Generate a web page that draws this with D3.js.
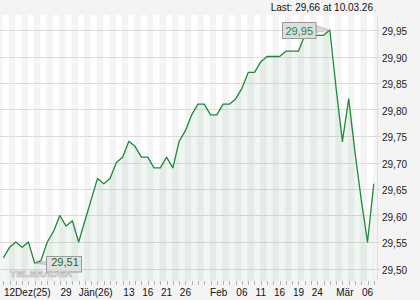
<!DOCTYPE html>
<html>
<head>
<meta charset="utf-8">
<script src="https://cdn.jsdelivr.net/npm/d3@7"></script>
<style>
  html, body { margin: 0; padding: 0; background: #f4f4f4; }
  svg { display: block; font-family: "Liberation Sans", Arial, sans-serif; }
</style>
</head>
<body>
<div id="chart"></div>
<script>
// daily closes, 12.12.25 - 10.03.26
const values = [
    29.52, 29.54, 29.55, 29.54, 29.55, 29.51, 29.515, 29.55, 29.57, 29.60,
    29.58, 29.59, 29.55, 29.59, 29.63, 29.67, 29.66, 29.67, 29.70, 29.71,
    29.74, 29.73, 29.71, 29.71, 29.69, 29.69, 29.71, 29.69, 29.74, 29.76,
    29.79, 29.81, 29.81, 29.79, 29.79, 29.81, 29.81, 29.82, 29.84, 29.87,
    29.87, 29.89, 29.90, 29.90, 29.90, 29.91, 29.91, 29.91, 29.94, 29.94,
    29.94, 29.94, 29.95, 29.84, 29.74, 29.82, 29.72, 29.63, 29.55, 29.66
];
const tickPos = [0, 10, 14.7, 20, 23, 26, 29, 34.3, 38, 41, 44, 47, 50, 54.4, 58];
const tickText = ["12Dez(25)", "29", "Jän(26)", "13", "16", "21", "26", "Feb", "06", "11", "16", "19", "24", "Mär", "06"];
const yTicks = [29.50, 29.55, 29.60, 29.65, 29.70, 29.75, 29.80, 29.85, 29.90, 29.95];
const lastText = "Last: 29,66 at 10.03.26";

const width = 420, height = 300;
const plot = { left: 0, right: 377, top: 15, bottom: 281 };
const fmt = v => v.toFixed(2).replace(".", ",");

const svg = d3.select("#chart").append("svg")
    .attr("width", width)
    .attr("height", height);

svg.append("rect").attr("width", width).attr("height", height).attr("fill", "#f4f4f4");

const x = d3.scaleLinear().domain([0, values.length - 1]).range([3.3, 373.8]);
const y = d3.scaleLinear().domain([29.50, 29.95]).range([268.5, 30]);
const step = x(1) - x(0);

// alternating day columns
svg.append("g").selectAll("rect")
    .data(values.map((v, i) => i))
    .enter().append("rect")
    .attr("x", i => Math.max(plot.left, x(i) - 0.6))
    .attr("y", plot.top)
    .attr("width", i => Math.min(plot.right, x(i) - 0.6 + step) - Math.max(plot.left, x(i) - 0.6))
    .attr("height", plot.bottom - plot.top)
    .attr("fill", i => i % 2 === 0 ? "#ffffff" : "#f4f4f4");

// horizontal grid
svg.append("g").selectAll("line")
    .data(yTicks)
    .enter().append("line")
    .attr("x1", plot.left).attr("x2", plot.right + 4)
    .attr("y1", d => Math.round(y(d)) + 0.5).attr("y2", d => Math.round(y(d)) + 0.5)
    .attr("stroke", "#dcdcdc");

svg.append("line")
    .attr("x1", plot.right + 0.5).attr("x2", plot.right + 0.5)
    .attr("y1", plot.top).attr("y2", plot.bottom)
    .attr("stroke", "#dddddd");

// area + line
const area = d3.area()
    .x((d, i) => x(i))
    .y0(plot.bottom)
    .y1(d => y(d));

svg.append("path")
    .datum(values)
    .attr("d", area)
    .attr("fill", "#2e7d3a")
    .attr("fill-opacity", 0.07);

const line = d3.line()
    .x((d, i) => x(i))
    .y(d => y(d));

svg.append("path")
    .datum(values)
    .attr("d", line)
    .attr("fill", "none")
    .attr("stroke", "#1d8a3b")
    .attr("stroke-width", 1.3)
    .attr("stroke-linejoin", "round");

// max / min markers
const maxI = d3.maxIndex(values), minI = d3.minIndex(values);

const maxBox = { x: 282.5, y: 22.5, w: 33.5, h: 16 };
svg.append("path")
    .attr("d", `M${maxBox.x + maxBox.w},${maxBox.y + 3}L${x(maxI)},${y(values[maxI])}L${maxBox.x + maxBox.w},${maxBox.y + 10}Z`)
    .attr("fill", "#d9d9d9").attr("stroke", "#b0b0b0").attr("stroke-width", 0.6);
svg.append("rect")
    .attr("x", maxBox.x).attr("y", maxBox.y).attr("width", maxBox.w).attr("height", maxBox.h)
    .attr("fill", "#dedede").attr("stroke", "#9a9a9a");
svg.append("text")
    .attr("x", maxBox.x + maxBox.w / 2).attr("y", maxBox.y + 12)
    .attr("text-anchor", "middle")
    .style("font-size", "11px")
    .attr("fill", "#1d8a3b")
    .text(fmt(values[maxI]));

const minBox = { x: 46.5, y: 256.5, w: 35, h: 15.5 };
svg.append("path")
    .attr("d", `M${minBox.x},${minBox.y + 5}L${x(minI)},${y(values[minI])}L${minBox.x},${minBox.y + 8}Z`)
    .attr("fill", "#d9d9d9").attr("stroke", "#a0a0a0").attr("stroke-width", 0.6);
svg.append("rect")
    .attr("x", minBox.x).attr("y", minBox.y).attr("width", minBox.w).attr("height", minBox.h)
    .attr("fill", "#dedede").attr("fill-opacity", 0.9).attr("stroke", "#9a9a9a");
svg.append("text")
    .attr("x", minBox.x + minBox.w / 2 + 1).attr("y", minBox.y + 9.5)
    .attr("text-anchor", "middle")
    .style("font-size", "11px")
    .attr("fill", "#1a6b30")
    .text(fmt(values[minI]));

// watermark, drawn over the min box like the original
svg.append("text")
    .attr("x", 10).attr("y", 276.5)
    .attr("textLength", 62)
    .attr("lengthAdjust", "spacingAndGlyphs")
    .style("font-size", "9px")
    .style("font-weight", "bold")
    .attr("fill", "#ffffff")
    .attr("fill-opacity", 0.8)
    .attr("stroke", "#b8b8b8")
    .attr("stroke-width", 0.7)
    .text("TELERADER");

// y labels
svg.append("g").selectAll("text")
    .data(yTicks)
    .enter().append("text")
    .attr("x", 382)
    .attr("y", d => y(d) + 5)
    .style("font-size", "10px")
    .attr("fill", "#222")
    .text(fmt);

// x ticks + labels
svg.append("g").selectAll("line")
    .data(values.map((v, i) => i))
    .enter().append("line")
    .attr("x1", i => Math.round(x(i)) + 0.5).attr("x2", i => Math.round(x(i)) + 0.5)
    .attr("y1", plot.bottom).attr("y2", plot.bottom + 4)
    .attr("stroke", "#b5b5b5");

svg.append("g").selectAll("text")
    .data(tickPos)
    .enter().append("text")
    .attr("x", (d, i) => i === 0 ? 4 : x(d))
    .attr("y", 296)
    .attr("text-anchor", (d, i) => i === 0 ? "start" : "middle")
    .style("font-size", "10px")
    .attr("fill", "#111")
    .text((d, i) => tickText[i]);

// header
svg.append("text")
    .attr("x", 373).attr("y", 11)
    .attr("text-anchor", "end")
    .style("font-size", "10px")
    .attr("fill", "#111")
    .text(lastText);
</script>
</body>
</html>
